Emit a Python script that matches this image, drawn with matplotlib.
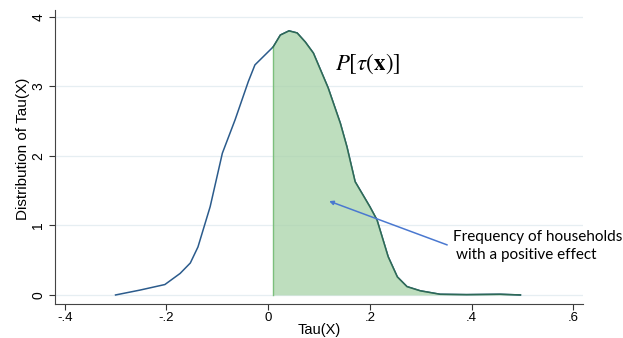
import matplotlib
matplotlib.use("Agg")
import matplotlib.pyplot as plt
import numpy as np

# density of Tau(X)
tau = [-0.30, -0.252, -0.203, -0.173, -0.153, -0.138, -0.114, -0.090, -0.065,
       -0.039, -0.026, 0.010, 0.024, 0.041, 0.057, 0.073, 0.089, 0.118, 0.142,
       0.155, 0.171, 0.200, 0.214, 0.236, 0.254, 0.273, 0.299, 0.338, 0.39,
       0.456, 0.496]
dens = [0.0, 0.07, 0.15, 0.31, 0.46, 0.69, 1.27, 2.04, 2.52,
        3.07, 3.31, 3.57, 3.74, 3.80, 3.77, 3.64, 3.48, 2.98, 2.47,
        2.13, 1.63, 1.27, 1.08, 0.55, 0.26, 0.12, 0.06, 0.01, 0.005,
        0.01, 0.0]
x_cut = 0.009
xticks = [-0.4, -0.2, 0, 0.2, 0.4, 0.6]
xtick_labels = ["-.4", "-.2", "0", ".2", ".4", ".6"]
yticks = [0, 1, 2, 3, 4]

plt.rcParams['font.family'] = ['Liberation Sans', 'DejaVu Sans']
plt.rcParams['mathtext.fontset'] = 'stix'

fig = plt.figure(figsize=(6.23, 3.38), dpi=100, facecolor="white")
ax = fig.add_axes((0.0883, 0.1006, 0.8475, 0.8698))

tau = np.array(tau)
dens = np.array(dens)

for y in yticks:
    ax.axhline(y, color="#e6eef2", lw=0.9, zorder=0)

ax.plot(tau, dens, color="#2b5b8c", lw=1.1, zorder=2)

# shaded part for tau > 0
xs = np.concatenate([[x_cut], tau[tau > x_cut]])
ys = np.interp(xs, tau, dens)
ax.fill_between(xs, 0, ys, color="#a9d3a9", alpha=0.75, lw=0, zorder=3)
ax.plot([x_cut, x_cut], [0, ys[0]], color="#7cbf7c", lw=1.0, zorder=3)
ax.plot(xs, ys, color="#2e6a55", lw=1.1, zorder=4)

ax.text(0.131, 3.32, r"$P[\tau(\mathbf{x})]$", fontsize=16.5, color="black",
        va="center", ha="left")

ax.annotate("", xy=(0.120, 1.35), xytext=(0.352, 0.72),
            arrowprops=dict(arrowstyle="-|>", color="#4a78d0", lw=1.1,
                            mutation_scale=6, shrinkA=0, shrinkB=0),
            zorder=5)
ax.text(0.363, 0.84, "Frequency of households", fontsize=11,
        family=['Lato', 'DejaVu Sans'], va="center", ha="left")
ax.text(0.369, 0.58, "with a positive effect", fontsize=11,
        family=['Lato', 'DejaVu Sans'], va="center", ha="left")

ax.set_xlim(-0.419, 0.619)
ax.set_ylim(-0.13, 4.10)
ax.set_xticks(xticks)
ax.set_xticklabels(xtick_labels)
ax.set_yticks(yticks)
ax.set_yticklabels([str(v) for v in yticks], rotation=90, va="center")
ax.tick_params(axis="x", labelsize=9.5, length=4, width=0.8,
               color="#333333", direction="out", pad=2)
ax.tick_params(axis="y", labelsize=10, length=4, width=0.8,
               color="#333333", direction="out", pad=3)

for s in ["top", "right"]:
    ax.spines[s].set_visible(False)
for s in ["left", "bottom"]:
    ax.spines[s].set_color("#444444")
    ax.spines[s].set_linewidth(0.8)

ax.set_xlabel("Tau(X)", fontsize=10.5, labelpad=-1)
ax.set_ylabel("Distribution of Tau(X)", fontsize=11, labelpad=4)
ax.yaxis.set_label_coords(-0.047, 0.527)

fig.savefig("out.png", dpi=100, facecolor="white")
